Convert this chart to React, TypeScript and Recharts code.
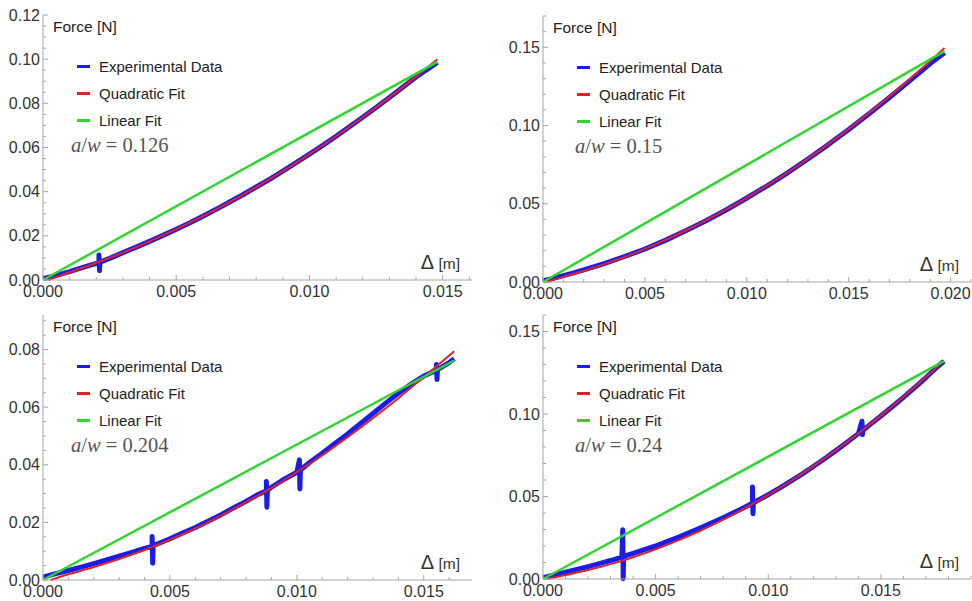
import { Legend, Line, LineChart, XAxis, YAxis } from 'recharts';

type Pt = [number, number];

// a/w = 0.126
const exp126: Pt[] = [
  [0, 0.0006], [0.0005, 0.0021], [0.001, 0.0038], [0.0015, 0.0057], [0.002, 0.0075],
  [0.0021, 0.0078], [0.0021, 0.0113], [0.00212, 0.0042], [0.00214, 0.0081],
  [0.0025, 0.0098], [0.003, 0.0124], [0.0035, 0.0149], [0.004, 0.0175], [0.0045, 0.0202],
  [0.005, 0.023], [0.0055, 0.0258], [0.006, 0.0289], [0.0065, 0.032], [0.007, 0.0353],
  [0.0075, 0.0386], [0.008, 0.0421], [0.0085, 0.0456], [0.009, 0.0493], [0.0095, 0.0531],
  [0.01, 0.057], [0.0105, 0.061], [0.011, 0.0651], [0.0115, 0.0694], [0.012, 0.0737],
  [0.0125, 0.0781], [0.013, 0.0826], [0.0135, 0.0873], [0.014, 0.0919], [0.0145, 0.096],
  [0.0148, 0.0985],
];
const quad126: Pt[] = [
  [0.0002, 0], [0.001, 0.0035], [0.002, 0.0078], [0.003, 0.0124], [0.004, 0.0175], [0.005, 0.023],
  [0.006, 0.0289], [0.007, 0.0353], [0.008, 0.0421], [0.009, 0.0493], [0.01, 0.057],
  [0.011, 0.0651], [0.012, 0.0737], [0.013, 0.0827], [0.014, 0.0921], [0.0148, 0.1],
];
const lin126: Pt[] = [[0, 0], [0.0148, 0.0988]];

// a/w = 0.15
const exp150: Pt[] = [
  [0, 0.0008], [0.0005, 0.0023], [0.001, 0.0041], [0.0015, 0.0058], [0.002, 0.0077],
  [0.003, 0.0118], [0.004, 0.0163], [0.005, 0.0211], [0.006, 0.0266], [0.007, 0.0327],
  [0.008, 0.0391], [0.009, 0.0462], [0.01, 0.0537], [0.011, 0.0615], [0.012, 0.0698],
  [0.013, 0.0786], [0.014, 0.0878], [0.015, 0.0975], [0.016, 0.1075], [0.017, 0.1179],
  [0.018, 0.1287], [0.019, 0.1396], [0.0197, 0.1465],
];
const quad150: Pt[] = [
  [0.0002, 0], [0.001, 0.0033], [0.002, 0.0071], [0.003, 0.0114], [0.004, 0.016], [0.005, 0.0212],
  [0.006, 0.0268], [0.007, 0.0329], [0.008, 0.0394], [0.009, 0.0464], [0.01, 0.0538],
  [0.011, 0.0617], [0.012, 0.07], [0.013, 0.0788], [0.014, 0.0881], [0.015, 0.0978],
  [0.016, 0.108], [0.017, 0.1186], [0.018, 0.1297], [0.019, 0.1412], [0.0197, 0.1495],
];
const lin150: Pt[] = [[0, 0], [0.0197, 0.1475]];

// a/w = 0.204
const exp204: Pt[] = [
  [0, 0.001], [0.0005, 0.0022], [0.001, 0.0033], [0.0015, 0.0045], [0.002, 0.0057],
  [0.0025, 0.007], [0.003, 0.0083], [0.0035, 0.0096], [0.004, 0.011], [0.0043, 0.0117],
  [0.0043, 0.0151], [0.00432, 0.0058], [0.00434, 0.0119],
  [0.005, 0.0143], [0.0055, 0.0163], [0.006, 0.0182], [0.0065, 0.0204], [0.007, 0.0226],
  [0.0075, 0.025], [0.008, 0.0273], [0.0085, 0.0298], [0.0088, 0.031],
  [0.0088, 0.0342], [0.00882, 0.0253], [0.00884, 0.0312],
  [0.009, 0.0322], [0.0095, 0.035], [0.01, 0.0374],
  [0.0101, 0.0417], [0.01012, 0.0316], [0.01014, 0.0382],
  [0.0105, 0.0408], [0.011, 0.044], [0.0115, 0.0474], [0.012, 0.0507], [0.0125, 0.0543],
  [0.013, 0.0578], [0.0135, 0.0614], [0.014, 0.0648], [0.0145, 0.068], [0.015, 0.0708],
  [0.0155, 0.0728], [0.0155, 0.0748], [0.01552, 0.0696], [0.01554, 0.073],
  [0.016, 0.0755], [0.0162, 0.0768],
];
const quad204: Pt[] = [
  [0.0003, 0], [0.001, 0.002], [0.002, 0.0045], [0.003, 0.0073], [0.004, 0.0104], [0.005, 0.014],
  [0.006, 0.0179], [0.007, 0.0223], [0.008, 0.027], [0.009, 0.032], [0.01, 0.0375],
  [0.011, 0.0433], [0.012, 0.0496], [0.013, 0.0562], [0.014, 0.0631], [0.015, 0.0705],
  [0.0162, 0.0794],
];
const lin204: Pt[] = [[0, 0], [0.0162, 0.0762]];

// a/w = 0.24
const exp240: Pt[] = [
  [0, 0.0008], [0.0005, 0.0025], [0.001, 0.0042], [0.0015, 0.0058], [0.002, 0.0075],
  [0.0025, 0.0093], [0.003, 0.0112], [0.0035, 0.0133],
  [0.00354, 0.0298], [0.00356, 0.0002], [0.00358, 0.0137],
  [0.004, 0.0155], [0.0045, 0.0178], [0.005, 0.02], [0.0055, 0.0226], [0.006, 0.0252],
  [0.0065, 0.0281], [0.007, 0.031], [0.0075, 0.034], [0.008, 0.0371], [0.0085, 0.0404],
  [0.009, 0.0438], [0.0093, 0.0459], [0.0093, 0.0557], [0.00932, 0.0395], [0.00934, 0.0461],
  [0.0095, 0.0474], [0.01, 0.0511], [0.0105, 0.0551], [0.011, 0.0593], [0.0115, 0.0636],
  [0.012, 0.0682], [0.0125, 0.0729], [0.013, 0.0778], [0.0135, 0.0829], [0.014, 0.0881],
  [0.01416, 0.0956], [0.01418, 0.0875], [0.0142, 0.09],
  [0.0145, 0.0934], [0.015, 0.0988], [0.0155, 0.1044], [0.016, 0.1101], [0.0165, 0.116],
  [0.017, 0.1221], [0.0175, 0.1285], [0.0178, 0.132],
];
const quad240: Pt[] = [
  [0.0002, 0], [0.001, 0.0024], [0.002, 0.0054], [0.003, 0.009], [0.004, 0.0132], [0.005, 0.018],
  [0.006, 0.0234], [0.007, 0.0294], [0.008, 0.036], [0.009, 0.0432], [0.01, 0.051],
  [0.011, 0.0594], [0.012, 0.0684], [0.013, 0.078], [0.014, 0.0882], [0.015, 0.099],
  [0.016, 0.1104], [0.017, 0.1224], [0.0178, 0.1325],
];
const lin240: Pt[] = [[0, 0], [0.0178, 0.132]];

const seriesNames = ['Experimental Data', 'Quadratic Fit', 'Linear Fit'];

const xMajorA = [0, 0.005, 0.01, 0.015];
const xMajorB = [0, 0.005, 0.01, 0.015, 0.02];
const yMajor126 = [0, 0.02, 0.04, 0.06, 0.08, 0.1, 0.12];
const yMajor204 = [0, 0.02, 0.04, 0.06, 0.08];
const yMajor015 = [0, 0.05, 0.1, 0.15];

const BLUE = '#1c1ce8';
const RED = '#e32222';
const GREEN = '#2fd62f';
const AXIS = '#a6a6a6';
const SANS = '"Liberation Sans", Arial, sans-serif';
const SERIF = '"Liberation Serif", "Times New Roman", serif';

const rows = (pts: Pt[]) => pts.map(([x, y]) => ({ x, y }));

function withMinors(max: number, step: number) {
  const out: number[] = [];
  for (let i = 0; i * step <= max + 1e-9; i++) out.push(Number((i * step).toFixed(4)));
  return out;
}

const isMajor = (v: number, majors: number[]) => majors.some((m) => Math.abs(m - v) < 1e-7);

type PanelProps = {
  left: number;
  top: number;
  plotW: number;
  plotH: number;
  xMax: number;
  yMax: number;
  xMajors: number[];
  yMajors: number[];
  yStep: number;
  exp: Pt[];
  quad: Pt[];
  lin: Pt[];
  ratio: string;
  ratioShift: number;
};

function Panel(p: PanelProps) {
  const width = 43 + p.plotW + 4;
  const height = 15 + p.plotH + 22;
  const xTicks = withMinors(p.xMax, 0.001);
  const yTicks = withMinors(p.yMax, p.yStep);
  const colors = [BLUE, RED, GREEN];

  return (
    <div style={{ position: 'absolute', left: p.left, top: p.top }}>
      <LineChart width={width} height={height} margin={{ top: 15, right: 4, bottom: 0, left: 3 }}>
        <XAxis
          type="number"
          dataKey="x"
          domain={[0, p.xMax]}
          ticks={xTicks}
          interval={0}
          height={22}
          tickSize={0}
          tickMargin={0}
          tickLine={false}
          axisLine={{ stroke: AXIS }}
          tick={(t: any) => {
            const major = isMajor(t.payload.value, p.xMajors);
            return (
              <g>
                <line x1={t.x} x2={t.x} y1={t.y} y2={t.y - (major ? 5 : 3)} stroke={AXIS} />
                {major && (
                  <text x={t.x} y={t.y + 17} textAnchor="middle" fontSize={16} fontFamily={SANS} fill="#333">
                    {t.payload.value.toFixed(3)}
                  </text>
                )}
              </g>
            );
          }}
          label={(l: any) => {
            const vb = l.viewBox;
            return (
              <text x={vb.x + vb.width - 12} y={vb.y - 11} textAnchor="end" fontFamily={SANS} fill="#333">
                <tspan fontSize={20}>Δ</tspan>
                <tspan fontSize={15.5}> [m]</tspan>
              </text>
            );
          }}
        />
        <YAxis
          type="number"
          domain={[0, p.yMax]}
          ticks={yTicks}
          interval={0}
          width={40}
          tickSize={0}
          tickMargin={0}
          tickLine={false}
          axisLine={{ stroke: AXIS }}
          tick={(t: any) => {
            const major = isMajor(t.payload.value, p.yMajors);
            return (
              <g>
                <line x1={t.x} x2={t.x + (major ? 5 : 3)} y1={t.y} y2={t.y} stroke={AXIS} />
                {major && (
                  <text x={t.x - 3} y={t.y + 5.5} textAnchor="end" fontSize={16} fontFamily={SANS} fill="#333">
                    {t.payload.value.toFixed(2)}
                  </text>
                )}
              </g>
            );
          }}
          label={(l: any) => {
            const vb = l.viewBox;
            return (
              <text x={vb.x + vb.width + 10} y={vb.y + 17} fontSize={15.5} fontFamily={SANS} fill="#222">
                Force [N]
              </text>
            );
          }}
        />
        <Legend
          layout="vertical"
          align="center"
          verticalAlign="middle"
          wrapperStyle={{ left: 77, top: 53, width: 240 }}
          content={() => (
            <div style={{ fontFamily: SANS, fontSize: 15, color: '#222' }}>
              {seriesNames.map((n, i) => (
                <div key={n} style={{ height: 27, display: 'flex', alignItems: 'center' }}>
                  <span style={{ width: 13, height: 2.5, background: colors[i], marginRight: 9 }} />
                  <span>{n}</span>
                </div>
              ))}
              <div style={{ fontFamily: SERIF, fontSize: 20.5, color: '#555', marginLeft: p.ratioShift, whiteSpace: 'nowrap' }}>
                <i>a</i>/<i>w</i> = {p.ratio}
              </div>
            </div>
          )}
        />
        <Line data={rows(p.exp)} dataKey="y" name={seriesNames[0]} type="linear" stroke={BLUE} strokeWidth={5} strokeLinejoin="round" dot={false} isAnimationActive={false} />
        <Line data={rows(p.quad)} dataKey="y" name={seriesNames[1]} type="monotone" stroke={RED} strokeWidth={2} dot={false} isAnimationActive={false} />
        <Line data={rows(p.lin)} dataKey="y" name={seriesNames[2]} type="linear" stroke={GREEN} strokeWidth={2.5} dot={false} isAnimationActive={false} />
      </LineChart>
    </div>
  );
}

export default function App() {
  return (
    <div style={{ position: 'fixed', left: 0, top: 0, width: 972, height: 601, background: '#fff', overflow: 'hidden' }}>
      <Panel left={0} top={0} plotW={429} plotH={265} xMax={0.0161} yMax={0.12} xMajors={xMajorA} yMajors={yMajor126} yStep={0.005} exp={exp126} quad={quad126} lin={lin126} ratio="0.126" ratioShift={-6} />
      <Panel left={500} top={1} plotW={428} plotH={266} xMax={0.021} yMax={0.17} xMajors={xMajorB} yMajors={yMajor015} yStep={0.01} exp={exp150} quad={quad150} lin={lin150} ratio="0.15" ratioShift={-2} />
      <Panel left={0} top={300} plotW={429} plotH={265} xMax={0.0169} yMax={0.092} xMajors={xMajorA} yMajors={yMajor204} yStep={0.005} exp={exp204} quad={quad204} lin={lin204} ratio="0.204" ratioShift={-6} />
      <Panel left={500} top={300} plotW={428} plotH={264} xMax={0.019} yMax={0.16} xMajors={xMajorA} yMajors={yMajor015} yStep={0.01} exp={exp240} quad={quad240} lin={lin240} ratio="0.24" ratioShift={-2} />
    </div>
  );
}
